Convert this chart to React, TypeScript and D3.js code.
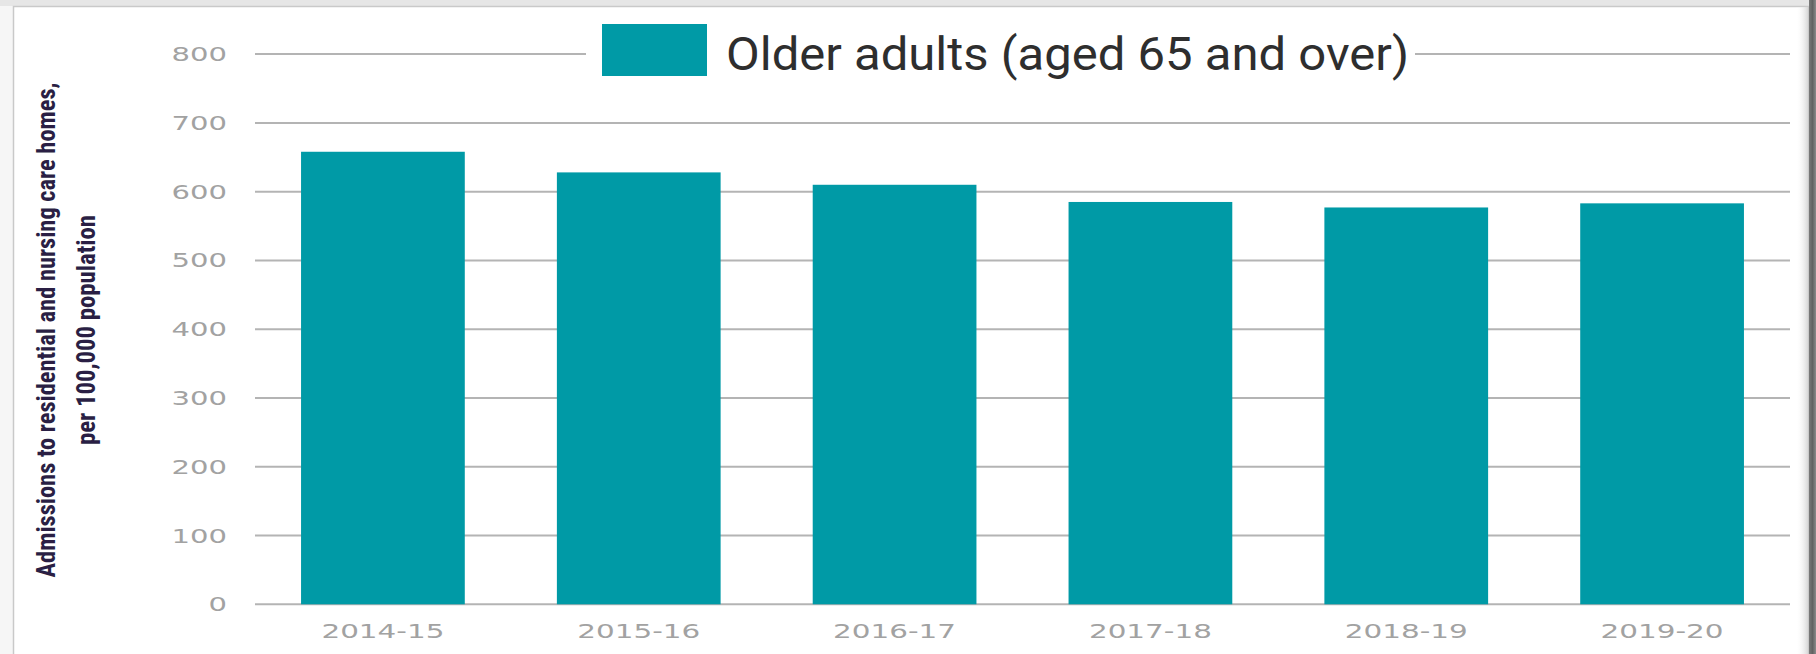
import React from "react";
import * as d3 from "d3";

const categories = ["2014-15", "2015-16", "2016-17", "2017-18", "2018-19", "2019-20"];
const values = [658, 628, 610, 585, 577, 583];
const yTicks = [0, 100, 200, 300, 400, 500, 600, 700, 800];
const seriesName = "Older adults (aged 65 and over)";
const yTitleLines = ["Admissions to residential and nursing care homes,", "per 100,000 population"];

const W = 1816;
const H = 654;
const BAR = "#009aa6";

function labelWidth(s: string) {
  let w = 0;
  for (const c of s) w += c === "-" ? 12 : 18.5;
  return w;
}

export default function App() {
  const x = d3.scaleBand<string>().domain(categories).range([255, 1790]).paddingInner(0.36).paddingOuter(0.18);
  const y = d3.scaleLinear().domain([0, 800]).range([604.3, 54.1]);
  const tickFont = "'DejaVu Sans', Verdana, sans-serif";
  return (
    <svg width={W} height={H} style={{ position: "absolute", left: 0, top: 0, display: "block" }}>
      <defs>
        <linearGradient id="shadow" x1="0" x2="1" y1="0" y2="0">
          <stop offset="0" stopColor="#7a7a7a" />
          <stop offset="0.5" stopColor="#626262" />
          <stop offset="1" stopColor="#8a8a8a" />
        </linearGradient>
        <linearGradient id="inner" x1="0" x2="1" y1="0" y2="0">
          <stop offset="0" stopColor="#ffffff" stopOpacity={0} />
          <stop offset="1" stopColor="#d8d8d8" stopOpacity={1} />
        </linearGradient>
      </defs>
      <rect x={0} y={0} width={W} height={H} fill="#f6f6f6" />
      <rect x={0} y={0} width={W} height={6} fill="#e6e6e6" />
      <rect x={13.5} y={6.5} width={1795} height={H + 10} fill="#ffffff" stroke="#c9c9c9" strokeWidth={1.5} />
      <rect x={1796} y={7} width={12} height={H} fill="url(#inner)" />
      <rect x={1809} y={0} width={7} height={H} fill="url(#shadow)" />

      {/* gridlines */}
      {yTicks.map((t) => (
        <line key={"g" + t} x1={255} x2={1790} y1={y(t)} y2={y(t)} stroke="#b4b4b4" strokeWidth={2} />
      ))}

      {/* y tick labels */}
      {yTicks.map((t) => (
        <text
          key={"yl" + t}
          x={227}
          y={y(t) + 7}
          textAnchor="end"
          fontFamily={tickFont}
          fontSize={19.5}
          fill="#a2a2a2"
          textLength={labelWidth(String(t))}
          lengthAdjust="spacingAndGlyphs"
        >
          {t}
        </text>
      ))}

      {/* bars */}
      {categories.map((c, i) => (
        <rect key={c} x={x(c)} y={y(values[i])} width={x.bandwidth()} height={y(0) - y(values[i])} fill={BAR} />
      ))}

      {/* x labels */}
      {categories.map((c) => (
        <text
          key={"xl" + c}
          x={(x(c) as number) + x.bandwidth() / 2}
          y={638}
          textAnchor="middle"
          fontFamily={tickFont}
          fontSize={19.5}
          fill="#a2a2a2"
          textLength={labelWidth(c)}
          lengthAdjust="spacingAndGlyphs"
        >
          {c}
        </text>
      ))}

      {/* legend */}
      <rect x={586} y={30} width={829} height={46} fill="#ffffff" />
      <rect x={602} y={24} width={105} height={52} fill={BAR} />
      <text
        x={726}
        y={70}
        fontFamily="Roboto, 'Noto Sans', sans-serif"
        fontSize={47}
        fill="#2e2e2e"
        textLength={683}
        lengthAdjust="spacingAndGlyphs"
      >
        {seriesName}
      </text>

      {/* y axis title */}
      {yTitleLines.map((l, i) => (
        <text
          key={"yt" + i}
          transform={`translate(${i === 0 ? 55 : 95},330) rotate(-90)`}
          textAnchor="middle"
          fontFamily="'Liberation Sans Narrow', 'Roboto Condensed', 'DejaVu Sans Condensed', Arial, sans-serif"
          fontWeight="bold"
          fontSize={25}
          fill="#2a1f44"
          textLength={i === 0 ? 495 : 230}
          lengthAdjust="spacingAndGlyphs"
        >
          {l}
        </text>
      ))}
    </svg>
  );
}
